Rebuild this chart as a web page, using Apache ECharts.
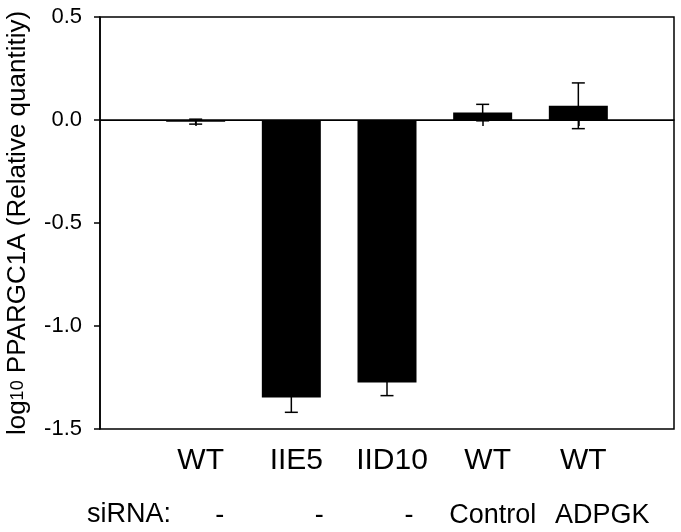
<!DOCTYPE html>
<html>
<head>
<meta charset="utf-8">
<script src="https://cdn.jsdelivr.net/npm/echarts@6/dist/echarts.min.js"></script>
<style>
html,body{margin:0;padding:0;background:#fff;}
#c{width:681px;height:532px;}
</style>
</head>
<body>
<div id="c"></div>
<script>
// ---- data ----
var categories = ['WT', 'IIE5', 'IID10', 'WT', 'WT'];
var values = [-0.008, -1.347, -1.274, 0.036, 0.069];
var errors = [0.012, 0.072, 0.064, 0.040, 0.111];
var sirnaLabels = ['-', '-', '-', 'Control', 'ADPGK'];
var sirnaTitle = 'siRNA:';
var yTicks = [-1.5, -1.0, -0.5, 0.0, 0.5];
var yTitleParts = ['log', '10', ' PPARGC1A (Relative quantitiy)'];

// ---- build ----
var axisCats = [''].concat(categories).concat(['']);
var barData = [null].concat(values).concat([null]);
var errData = values.map(function (v, i) { return [i + 1, v - errors[i], v + errors[i]]; });
var FONT = '"Liberation Sans", Arial, Helvetica, sans-serif';

var chart = echarts.init(document.getElementById('c'), null, {renderer: 'canvas'});
chart.setOption({
  animation: false,
  backgroundColor: '#fff',
  grid: {left: 100, right: 7, top: 17, bottom: 103, containLabel: false, outerBoundsMode: 'none',
    show: true, borderColor: '#000', borderWidth: 1.5, backgroundColor: 'transparent'},
  xAxis: {
    type: 'category',
    data: axisCats,
    boundaryGap: false,
    axisLine: {lineStyle: {color: '#000', width: 1.5}},
    axisTick: {length: 6, lineStyle: {color: '#000', width: 1.5},
      interval: function (idx) { return idx > 0 && idx < axisCats.length - 1; }},
    axisLabel: {interval: 0, margin: 17, color: '#000', fontSize: 30, fontFamily: FONT, padding: [0, 0, 0, 10]},
    splitLine: {show: false}
  },
  yAxis: {
    type: 'value',
    min: yTicks[0], max: yTicks[yTicks.length - 1], interval: 0.5,
    axisLine: {show: true, lineStyle: {color: '#000', width: 1.5}},
    axisTick: {show: true, length: 6, lineStyle: {color: '#000', width: 1.5}},
    axisLabel: {margin: 18, color: '#000', fontSize: 22, fontFamily: FONT,
      formatter: function (v) { return v.toFixed(1); }},
    splitLine: {show: false}
  },
  series: [
    {
      type: 'bar',
      data: barData,
      barWidth: 59,
      itemStyle: {color: '#000'},
      markLine: {
        silent: true, symbol: 'none', animation: false,
        label: {show: false},
        lineStyle: {color: '#000', width: 1, type: 'solid'},
        data: [{yAxis: 0}]
      },
      z: 2
    },
    {
      type: 'custom',
      data: errData,
      z: 3,
      renderItem: function (params, api) {
        var x = api.value(0);
        var lo = api.coord([x, api.value(1)]);
        var hi = api.coord([x, api.value(2)]);
        var hw = 6.5;
        var st = {stroke: '#000', lineWidth: 1.5};
        return {
          type: 'group',
          children: [
            {type: 'line', shape: {x1: lo[0], y1: lo[1], x2: hi[0], y2: hi[1]}, style: st},
            {type: 'line', shape: {x1: lo[0] - hw, y1: lo[1], x2: lo[0] + hw, y2: lo[1]}, style: st},
            {type: 'line', shape: {x1: hi[0] - hw, y1: hi[1], x2: hi[0] + hw, y2: hi[1]}, style: st}
          ]
        };
      }
    }
  ]
});

// siRNA row and y title: real text
var sirnaOffsets = [24, 28, 22, 10, 24];
var rowY = 516;
var g = [{
  type: 'text', left: 87, top: rowY - 15,
  style: {text: sirnaTitle, fill: '#000', font: '27px ' + FONT}
}, {
  type: 'text', x: 18, y: 223, rotation: Math.PI / 2,
  style: {
    text: '{a|' + yTitleParts[0] + '}{s|' + yTitleParts[1] + '}{a|' + yTitleParts[2] + '}',
    fill: '#000', align: 'center', verticalAlign: 'middle',
    rich: {
      a: {fontSize: 26, fontFamily: FONT, fill: '#000', lineHeight: 26},
      s: {fontSize: 18, fontFamily: FONT, fill: '#000', lineHeight: 26, verticalAlign: 'middle'}
    }
  }
}];
sirnaLabels.forEach(function (t, i) {
  var px = chart.convertToPixel({xAxisIndex: 0}, i + 1);
  g.push({
    type: 'text', x: px + sirnaOffsets[i], y: rowY,
    style: {text: t, fill: '#000', font: '27px ' + FONT, align: 'center', verticalAlign: 'middle'}
  });
});
chart.setOption({graphic: g});
</script>
</body>
</html>
